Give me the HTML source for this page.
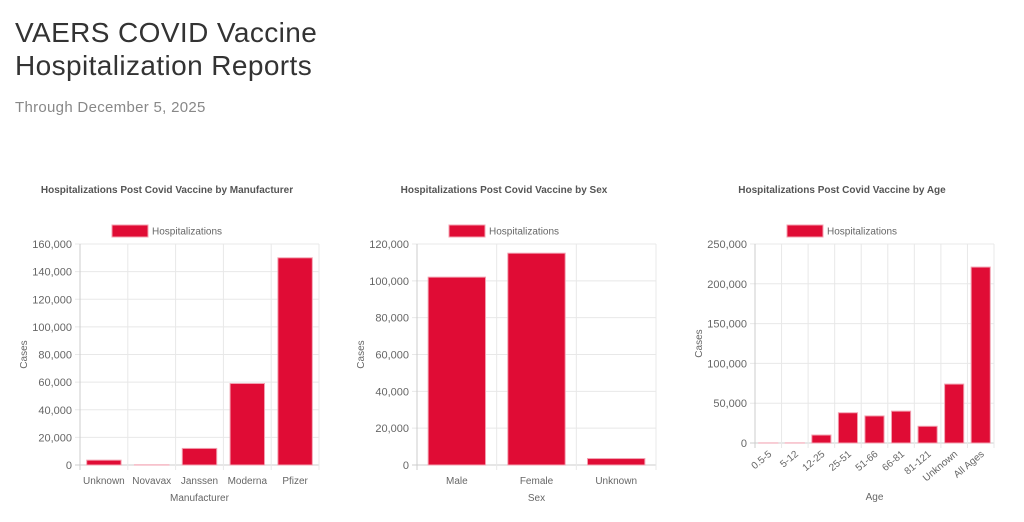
<!DOCTYPE html>
<html><head><meta charset="utf-8"><style>
body{margin:0;width:1024px;height:522px;background:#fff;overflow:hidden;font-family:"Liberation Sans",sans-serif}
h1{position:absolute;left:15px;top:16px;margin:0;font-weight:400;font-size:28px;letter-spacing:0.4px;line-height:33px;color:#333}
.sub{position:absolute;left:15px;top:99px;font-size:15px;letter-spacing:0.3px;color:#888}
svg{position:absolute;left:0;top:0}
</style></head><body>
<h1>VAERS COVID Vaccine<br>Hospitalization Reports</h1>
<div class="sub">Through December 5, 2025</div>
<svg id="s" width="1024" height="522"></svg>
<script>
const mfrCategories=["Unknown","Novavax","Janssen","Moderna","Pfizer"];
const mfrValues=[3500,100,12000,59000,150000];
const mfrTicks=[0,20000,40000,60000,80000,100000,120000,140000,160000];
const sexCategories=["Male","Female","Unknown"];
const sexValues=[102000,115000,3500];
const sexTicks=[0,20000,40000,60000,80000,100000,120000];
const ageCategories=["0.5-5","5-12","12-25","25-51","51-66","66-81","81-121","Unknown","All Ages"];
const ageValues=[50,100,10000,38000,34000,40000,21000,74000,221000];
const ageTicks=[0,50000,100000,150000,200000,250000];
const NS="http://www.w3.org/2000/svg",svg=document.getElementById('s');
function mk(t,a,txt){const e=document.createElementNS(NS,t);for(const k in a)e.setAttribute(k,a[k]);if(txt!=null)e.textContent=txt;svg.appendChild(e);return e;}
function chart(o){
 const {x0,x1,y0,y1,cats,vals,ticks,title,xt,rot,cx,id}=o;
 const max=ticks[ticks.length-1];
 const y=v=>y0-(v/max)*(y0-y1);
 const bw=(x1-x0)/cats.length;
 let t=mk('text',{x:cx,y:193,'text-anchor':'middle','font-size':10,'font-weight':'bold',fill:'#555'},title);
 
 let l=mk('rect',{x:cx-55,y:225,width:36,height:12,fill:'#e00c35',stroke:'#f5a0b0','stroke-width':1});
 
 t=mk('text',{x:cx-15,y:234.5,'font-size':10,fill:'#666'},'Hospitalizations');
 
 ticks.forEach(v=>{
  const g=mk('line',{x1:x0-5,x2:x1,y1:y(v),y2:y(v),stroke:v==0?'#ccc':'#e8e8e8'});
  
  const tl=mk('text',{x:x0-8,y:y(v)+4,'text-anchor':'end','font-size':11,fill:'#666'},v.toLocaleString('en-US'));
  
 });
 for(let i=0;i<=cats.length;i++){
  const g=mk('line',{x1:x0+i*bw,x2:x0+i*bw,y1:y1,y2:y0+5,stroke:i==0?'#ccc':'#e8e8e8'});
  
 }
 cats.forEach((c,i)=>{
  const w=bw*0.72,bx=x0+i*bw+(bw-w)/2;
  const b=mk('rect',{x:bx,y:y(vals[i]),width:w,height:y0-y(vals[i]),fill:'#e00c35',stroke:'#f2a0b0','stroke-width':1});
  
  
  const mx=x0+i*bw+bw/2;
  let lab;
  if(rot){lab=mk('text',{x:mx+4,y:y0+12,'text-anchor':'end','font-size':10,fill:'#666',transform:`rotate(-40 ${mx+4} ${y0+12})`},c);}
  else lab=mk('text',{x:mx,y:y0+19,'text-anchor':'middle','font-size':10,fill:'#666'},c);
  
 });
 t=mk('text',{x:(x0+x1)/2,y:rot?500:501,'text-anchor':'middle','font-size':10,fill:'#666'},xt);
 
 const ay=(y0+y1)/2,ax=o.ax;
 t=mk('text',{x:ax,y:ay,'text-anchor':'middle','font-size':10,fill:'#666',transform:`rotate(-90 ${ax} ${ay})`},'Cases');
 
}
chart({id:'manufacturer',x0:80,x1:319,y0:465,y1:244,cats:mfrCategories,vals:mfrValues,ticks:mfrTicks,title:'Hospitalizations Post Covid Vaccine by Manufacturer',xt:'Manufacturer',cx:167,ax:27});
chart({id:'sex',x0:417,x1:656,y0:465,y1:244,cats:sexCategories,vals:sexValues,ticks:sexTicks,title:'Hospitalizations Post Covid Vaccine by Sex',xt:'Sex',cx:504,ax:364});
chart({id:'age',x0:755,x1:994,y0:443,y1:244,cats:ageCategories,vals:ageValues,ticks:ageTicks,title:'Hospitalizations Post Covid Vaccine by Age',xt:'Age',cx:842,ax:702,rot:true});
</script>
</body></html>
